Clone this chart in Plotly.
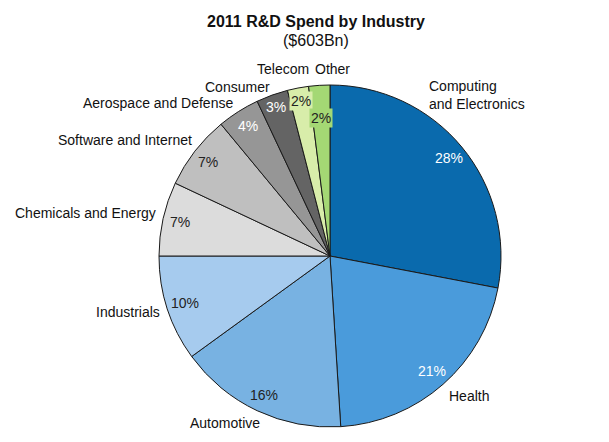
import numpy as np
import plotly.graph_objects as go

# ---- data ----
industries = ["Computing<br>and Electronics", "Health", "Automotive", "Industrials",
              "Chemicals and Energy", "Software and Internet", "Aerospace and Defense",
              "Consumer", "Telecom", "Other"]
shares = [28, 21, 16, 10, 7, 7, 4, 3, 2, 2]
pct_labels = ["28%", "21%", "16%", "10%", "7%", "7%", "4%", "3%", "2%", "2%"]
title_main = "2011 R&D Spend by Industry"
title_sub = "($603Bn)"

# ---- styles ----
colors = ["#0a6aad", "#4a9bdb", "#78b2e2", "#a6cbee", "#dcdcdc",
          "#bfbfbf", "#969696", "#646464", "#d8edaa", "#a4d874"]
pct_font_colors = ["white", "white", "#222", "#222", "#222",
                   "#222", "white", "white", "#222", "#222"]
pct_radius = [0.9, 0.9, 0.9, 0.89, 0.9, 0.9, 0.9, 0.925, 0.92, 0.81]
pct_bg = [None] * 8 + [colors[8], colors[9]]
label_anchor = ["left", "left", "center", "right", "right", "right", "right", "right", "center", "center"]
label_nudge = [(-35, -52), (4, 12), (-32, 12), (-5, 3), (-5, -6), (-1, -11),
               (-3, -9), (0, -8), (-15, -19), (13, -16)]
FONT = "Liberation Sans, Arial"

# page body margin offsets the figure inside the window
OFF = 8
WIN_W, WIN_H = 609, 442
W, H = WIN_W - OFF, WIN_H - OFF
ML, MR, MT, MB = 43, 0, 77, 15
pw, ph = W - ML - MR, H - MT - MB
# centre / radius in window pixels
cx, cy = OFF + ML + pw / 2, OFF + MT + ph / 2
R = min(pw, ph) / 2


def to_paper(px, py):
    """window pixel -> paper coords"""
    return (px - OFF - ML) / pw, (OFF + MT + ph - py) / ph


vals = np.array(shares, dtype=float)
cum = np.cumsum(vals) - vals / 2
mid = 2 * np.pi * cum / vals.sum()  # clockwise from 12 o'clock

fig = go.Figure(go.Pie(
    labels=[l.replace("<br>", " ") for l in industries], values=shares,
    sort=False, direction="clockwise", rotation=0,
    marker=dict(colors=colors, line=dict(color="#1a1a1a", width=1)),
    textinfo="none", hoverinfo="label+percent", showlegend=False,
))

annotations = []
for i, a in enumerate(mid):
    px = cx + pct_radius[i] * R * np.sin(a)
    py = cy - pct_radius[i] * R * np.cos(a)
    x, y = to_paper(px, py)
    ann = dict(x=x, y=y, xref="paper", yref="paper", text=pct_labels[i], showarrow=False,
               font=dict(family=FONT, size=14, color=pct_font_colors[i]),
               xanchor="center", yanchor="middle")
    if pct_bg[i]:
        ann.update(bgcolor=pct_bg[i], borderpad=1)
    annotations.append(ann)
    lx = cx + R * np.sin(a) + label_nudge[i][0]
    ly = cy - R * np.cos(a) + label_nudge[i][1]
    x, y = to_paper(lx, ly)
    annotations.append(dict(x=x, y=y, xref="paper", yref="paper", text=industries[i],
                            showarrow=False, align="left",
                            font=dict(family=FONT, size=14, color="#111"),
                            xanchor=label_anchor[i], yanchor="middle"))

# title lines
for txt, ty, bold in [(title_main, 21, True), (title_sub, 41, False)]:
    x, y = to_paper(316, ty)
    annotations.append(dict(x=x, y=y, xref="paper", yref="paper",
                            text=f"<b>{txt}</b>" if bold else txt, showarrow=False,
                            font=dict(family=FONT, size=16, color="#111"),
                            xanchor="center", yanchor="middle"))

fig.update_layout(
    width=W, height=H,
    margin=dict(l=ML, r=MR, t=MT, b=MB),
    paper_bgcolor="white", plot_bgcolor="white",
    annotations=annotations,
)

fig.write_html("out.html")
